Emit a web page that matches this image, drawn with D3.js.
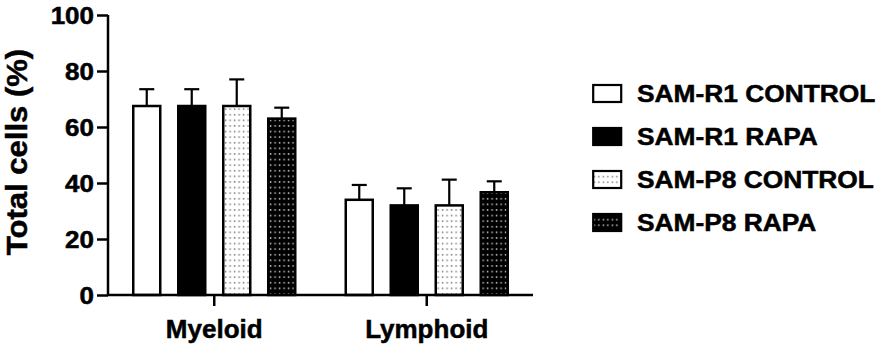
<!DOCTYPE html>
<html><head><meta charset="utf-8">
<script src="https://cdn.jsdelivr.net/npm/d3@7/dist/d3.min.js"></script>
<style>
html,body{margin:0;padding:0;background:#fff;}
svg{display:block;}
text{font-family:"Liberation Sans",Arial,Helvetica,sans-serif;font-weight:bold;fill:#000;stroke:#000;stroke-width:0.5px;}
</style></head>
<body>
<svg id="chart" width="886" height="350"></svg>
<script>
// ---- data ----
const categories = ["Myeloid", "Lymphoid"];
const seriesNames = ["SAM-R1 CONTROL", "SAM-R1 RAPA", "SAM-P8 CONTROL", "SAM-P8 RAPA"];
const r1Control = [67.5, 34.0];
const r1Rapa    = [67.5, 32.0];
const p8Control = [67.5, 32.0];
const p8Rapa    = [63.0, 36.7];
const r1ControlErr = [6.0, 5.3];
const r1RapaErr    = [6.0, 6.1];
const p8ControlErr = [9.5, 9.2];
const p8RapaErr    = [3.9, 3.9];
const yTicks = [0, 20, 40, 60, 80, 100];
const yTitle = "Total cells (%)";

const seriesValues = [r1Control, r1Rapa, p8Control, p8Rapa];
const seriesErrors = [r1ControlErr, r1RapaErr, p8ControlErr, p8RapaErr];
const fills = ["#fff", "#000", "url(#dotsLight)", "url(#dotsDark)"];

const svg = d3.select("#chart");
const defs = svg.append("defs");
function dotPattern(id, bg, dot) {
  const p = defs.append("pattern").attr("id", id).attr("patternUnits", "userSpaceOnUse")
    .attr("width", 4.5).attr("height", 5.6);
  p.append("rect").attr("width", 4.5).attr("height", 5.6).attr("fill", bg);
  p.append("rect").attr("x", 1.6).attr("y", 2).attr("width", 1.5).attr("height", 1.5).attr("fill", dot);
}
dotPattern("dotsLight", "#fff", "#7a7a7a");
dotPattern("dotsDark", "#000", "#c8c8c8");

const y = d3.scaleLinear().domain([0, 100]).range([295, 15]);
const x0 = d3.scaleBand().domain(categories).range([108, 533]).padding(0);
const x1 = d3.scaleBand().domain(seriesNames).range([-90, 90]).paddingInner(0.4).paddingOuter(0.2);

function stretch(sel, f) {
  sel.each(function () {
    const len = this.getComputedTextLength();
    d3.select(this).attr("textLength", len * f).attr("lengthAdjust", "spacingAndGlyphs");
  });
}

// bars
const groups = svg.append("g").selectAll("g").data(categories).join("g")
  .attr("transform", d => `translate(${x0(d) + x0.bandwidth() / 2},0)`);

seriesNames.forEach((s, si) => {
  groups.each(function (cat, ci) {
    const g = d3.select(this);
    const v = seriesValues[si][ci], e = seriesErrors[si][ci];
    const cx = x1(s) + x1.bandwidth() / 2;
    // error bar (upper only)
    g.append("line").attr("x1", cx).attr("x2", cx).attr("y1", y(v)).attr("y2", y(v + e))
      .attr("stroke", "#000").attr("stroke-width", 2.2);
    g.append("line").attr("x1", cx - 7.5).attr("x2", cx + 7.5).attr("y1", y(v + e)).attr("y2", y(v + e))
      .attr("stroke", "#000").attr("stroke-width", 2.2);
    g.append("rect").attr("x", x1(s)).attr("width", x1.bandwidth())
      .attr("y", y(v)).attr("height", y(0) - y(v))
      .attr("fill", fills[si]).attr("stroke", "#000").attr("stroke-width", 2.5);
  });
});

// y axis
const yAxis = svg.append("g").attr("transform", "translate(108,0)")
  .call(d3.axisLeft(y).tickValues(yTicks).tickSize(11).tickPadding(3));
yAxis.attr("font-family", null).attr("font-size", null);
yAxis.select(".domain").attr("stroke", "#000").attr("stroke-width", 2.5).attr("d", "M0,15V295");
yAxis.selectAll(".tick line").attr("stroke", "#000").attr("stroke-width", 2.5);
yAxis.selectAll(".tick text").attr("font-size", 23).attr("dy", "0.36em");
stretch(yAxis.selectAll(".tick text"), 1.13);

// x axis
const xAxis = svg.append("g").attr("transform", "translate(0,295)")
  .call(d3.axisBottom(x0).tickSize(11).tickPadding(14));
xAxis.attr("font-family", null).attr("font-size", null);
xAxis.select(".domain").attr("stroke", "#000").attr("stroke-width", 2.5).attr("d", "M108,0H533");
xAxis.selectAll(".tick line").attr("stroke", "#000").attr("stroke-width", 2.5);
xAxis.selectAll(".tick text").attr("font-size", 26).attr("dy", "0.71em");

// y title
svg.append("text").attr("transform", "translate(27,152) rotate(-90)")
  .attr("text-anchor", "middle").attr("font-size", 29).text(yTitle)
  .call(stretch, 1.07);

// legend
const legend = svg.append("g").selectAll("g").data(seriesNames).join("g")
  .attr("transform", (d, i) => `translate(592,${93.5 + i * 43})`);
legend.append("rect").attr("x", 1.2).attr("y", -8.5).attr("width", 28).attr("height", 17)
  .attr("fill", (d, i) => fills[i]).attr("stroke", "#000").attr("stroke-width", 2.2);
legend.append("text").attr("x", 45).attr("dy", "0.36em").attr("font-size", 23.5).text(d => d)
  .call(stretch, 1.12);
</script>
</body></html>
